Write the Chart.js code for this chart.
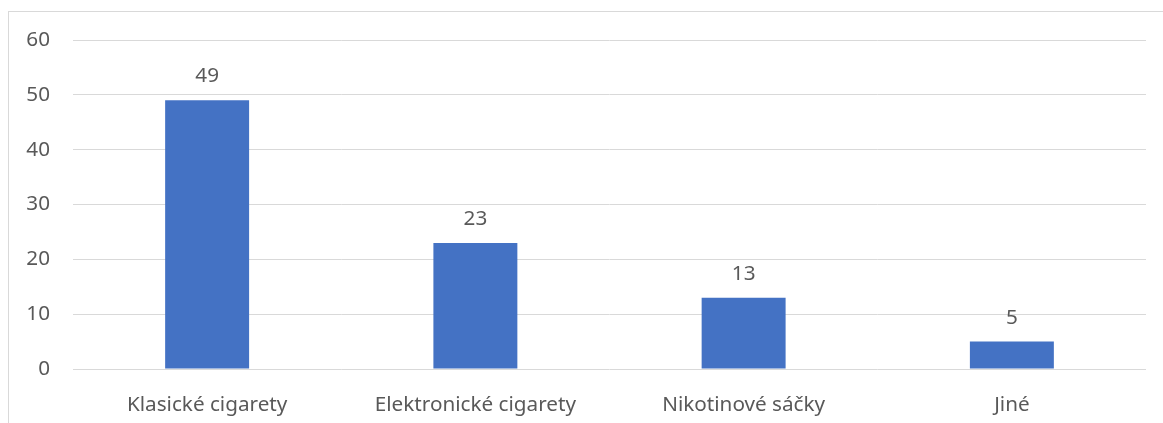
<!DOCTYPE html>
<html>
<head>
<meta charset="utf-8">
<script src="https://cdn.jsdelivr.net/npm/chart.js@4"></script>
<style>
  html, body { margin: 0; padding: 0; background: #fff; overflow: hidden; }
  #frame {
    position: absolute; left: 8px; top: 11px; right: 0; bottom: 0;
    border-left: 1px solid #d9d9d9; border-top: 1px solid #d9d9d9;
  }
  #myChart { position: absolute; left: 0; top: 0; width: 1163px; height: 423px; }
</style>
</head>
<body>
<div id="frame"></div>
<canvas id="myChart" width="1163" height="423"></canvas>
<script>
const categories = ['Klasické cigarety', 'Elektronické cigarety', 'Nikotinové sáčky', 'Jiné'];
const counts = [49, 23, 13, 5];
const yTicks = [0, 10, 20, 30, 40, 50, 60];

const textColor = '#595959';
const fontFamily = '"Noto Sans", sans-serif';
const fontSize = 20.7;

// writes the value above each bar
const valueLabels = {
    id: 'valueLabels',
    afterDatasetsDraw(chart) {
        const c = chart.ctx;
        const meta = chart.getDatasetMeta(0);
        c.save();
        c.fillStyle = textColor;
        c.font = fontSize + 'px ' + fontFamily;
        c.textAlign = 'center';
        c.textBaseline = 'alphabetic';
        meta.data.forEach((bar, i) => {
            c.fillText(String(counts[i]), bar.x, bar.y - 18);
        });
        c.restore();
    }
};

const ctx = document.getElementById('myChart');

const chart = new Chart(ctx, {
    type: 'bar',
    data: {
        labels: categories,
        datasets: [{
            data: counts,
            backgroundColor: '#4472c4',
            borderWidth: 0,
            categoryPercentage: 1,
            barPercentage: 0.313
        }]
    },
    options: {
        responsive: false,
        animation: false,
        devicePixelRatio: 1,
        layout: { padding: { left: 0, right: 17, top: 40, bottom: 0 } },
        plugins: {
            legend: { display: false },
            tooltip: { enabled: false }
        },
        scales: {
            x: {
                grid: { display: false },
                border: { display: false },
                ticks: {
                    color: textColor,
                    font: { family: fontFamily, size: fontSize },
                    padding: 16,
                    maxRotation: 0
                },
                afterFit(scale) { scale.height = 54; }
            },
            y: {
                min: 0,
                max: 60,
                afterBuildTicks(scale) {
                    scale.ticks = yTicks.map(v => ({ value: v }));
                },
                grid: { color: '#d9d9d9', lineWidth: 1, drawTicks: false },
                border: { display: false },
                ticks: {
                    color: textColor,
                    font: { family: fontFamily, size: fontSize },
                    padding: 23
                },
                afterFit(scale) { scale.width = 73; }
            }
        }
    },
    plugins: [valueLabels]
});
</script>
</body>
</html>
